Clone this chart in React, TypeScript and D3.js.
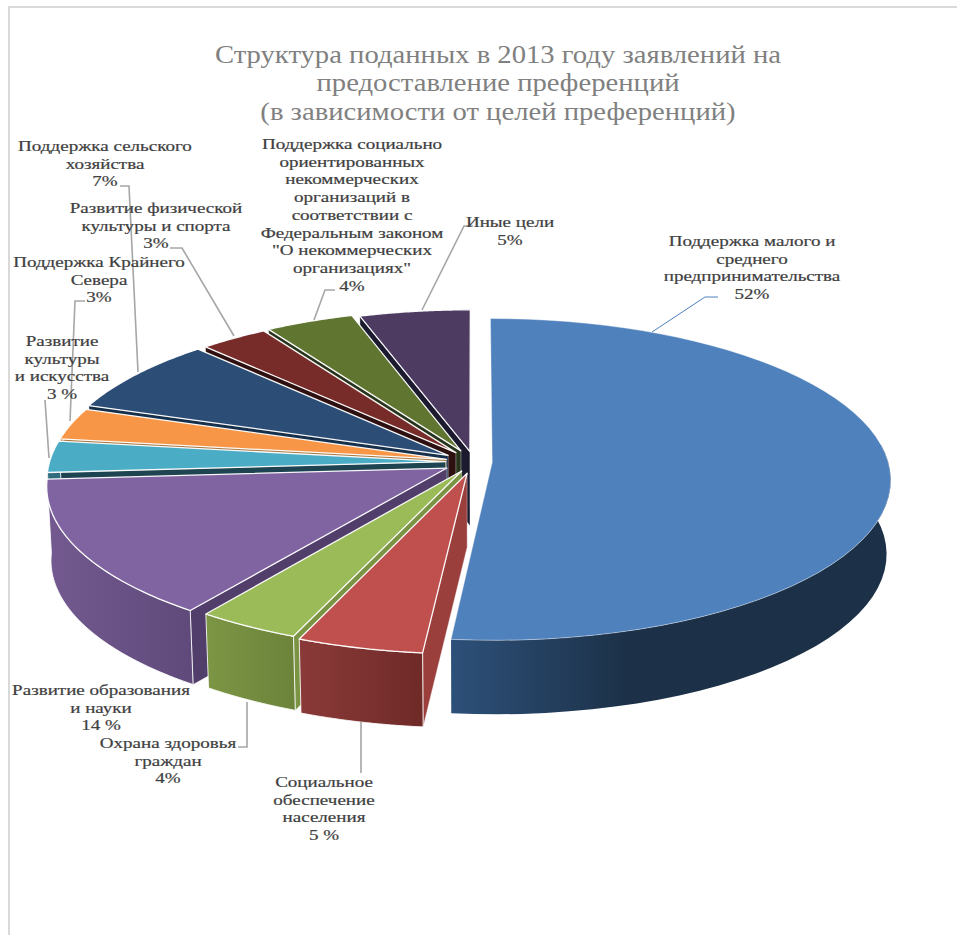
import React from "react";
import * as d3 from "d3";

const WIDTH = 957;
const HEIGHT = 935;

// Shares of applications by purpose, clockwise from 12 o'clock.
const shares = [52, 5, 4, 14, 3, 3, 7, 3, 4, 5];
const labelLines = [
  ["Поддержка малого и", "среднего", "предпринимательства", "52%"],
  ["Социальное", "обеспечение", "населения", "5 %"],
  ["Охрана здоровья", "граждан", "4%"],
  ["Развитие образования", "и науки", "14 %"],
  ["Развитие", "культуры", "и искусства", "3 %"],
  ["Поддержка Крайнего", "Севера", "3%"],
  ["Поддержка сельского", "хозяйства", "7%"],
  ["Развитие физической", "культуры и спорта", "3%"],
  [
    "Поддержка социально",
    "ориентированных",
    "некоммерческих",
    "организаций в",
    "соответствии с",
    "Федеральным законом",
    "\"О некоммерческих",
    "организациях\"",
    "4%",
  ],
  ["Иные цели", "5%"],
];
const titleLines = [
  "Структура поданных в 2013 году заявлений на",
  "предоставление преференций",
  "(в зависимости от целей преференций)",
];

// Radial pull of each slice away from the pie centre, as a fraction of the radius.
const pull = [0.046, 0.072, 0.064, 0.078, 0.072, 0.072, 0.078, 0.075, 0.078, 0.066];

const topColors = ["#4f81bd", "#c0504d", "#9bbb59", "#8064a2", "#4bacc6", "#f79646", "#2c4d75", "#772c2a", "#5f7530", "#4d3b62"];
const wallLeft = ["#2d5079", "#8a3a38", "#7c9645", "#73598f", "#2f6c7d", "#b06a30", "#1f3a58", "#541f1e", "#44541f", "#372a47"];
const wallRight = ["#1c3148", "#6f2a28", "#6c833a", "#5f4a7b", "#2f6c7d", "#b06a30", "#1f3a58", "#541f1e", "#44541f", "#372a47"];
const cutColors = ["#2c4d75", "#9a3f3c", "#7a9443", "#513e6b", "#1d4450", "#a8773f", "#16304c", "#2e1010", "#27331a", "#1b1a2e"];

// Label block centres and the baseline of each block's first line.
const labelCentres = [752, 324, 168, 101, 62, 99, 105, 156, 352, 510];
const labelBaselines = [246, 787, 748, 695, 346, 267, 151, 213, 149, 227];

// Leader lines running from the labels to the rim.
const leaders = [
  { pts: [[718, 297], [705, 297], [652, 332]], color: "#4f81bd", width: 1 },
  { pts: [[361, 722], [361, 773]], color: "#a6a6a6", width: 1.6 },
  { pts: [[238, 747], [247, 747], [247, 702]], color: "#a6a6a6", width: 1.6 },
  { pts: [[45, 400], [45, 400], [49, 458]], color: "#a6a6a6", width: 1.6 },
  { pts: [[85, 301], [75, 301], [70, 421]], color: "#a6a6a6", width: 1.6 },
  { pts: [[120, 186], [129, 186], [138, 372]], color: "#a6a6a6", width: 1.6 },
  { pts: [[170, 248], [182, 248], [234, 336]], color: "#a6a6a6", width: 1.6 },
  { pts: [[335, 290], [325, 290], [314, 320]], color: "#a6a6a6", width: 1.6 },
  { pts: [[473, 226], [464, 226], [422, 310]], color: "#a6a6a6", width: 1.6 },
];

// Perspective disc: far rim is compressed, near rim enlarged.
const CX = 474;
const CY = 462;
const RX = 396;
const RY = 159;
const PERSPECTIVE = 0.106;
const DEPTH = 74;
const BOTTOM_SHRINK = 0.01;

// The camera sits slightly off axis, so angles in the lower-left quadrant read a little smaller.
const YAW_START = (170 * Math.PI) / 180;
const YAW_END = (320 * Math.PI) / 180;
const YAW_AMOUNT = (4.5 * Math.PI) / 180;
const yawed = (a: number) =>
  a > YAW_START && a < YAW_END
    ? a - YAW_AMOUNT * Math.sin((Math.PI * (a - YAW_START)) / (YAW_END - YAW_START))
    : a;

const project = (u: number, v: number, z: number): [number, number] => {
  const p = 1 / (1 - PERSPECTIVE * v);
  const q = 1 - BOTTOM_SHRINK * z;
  return [CX + RX * u * p * q, CY + RY * v * p + DEPTH * z];
};

const outline = d3.line<[number, number]>().x((d) => d[0]).y((d) => d[1]);

const arcs = d3.pie<number>().sort(null).value((d) => d)(shares);

type SliceGeometry = {
  index: number;
  order: number;
  top: string;
  wall: string | null;
  cut: string | null;
  x0: number;
  x1: number;
};

const slices: SliceGeometry[] = arcs.map((arc, index) => {
  const startAngle = yawed(arc.startAngle);
  const endAngle = yawed(arc.endAngle);
  const mid = (startAngle + endAngle) / 2;
  const ou = pull[index] * Math.sin(mid);
  const ov = -pull[index] * Math.cos(mid);
  const rim = (a: number, z: number) => project(ou + Math.sin(a), ov - Math.cos(a), z);
  const samples = d3.range(0, 61).map((i) => startAngle + ((endAngle - startAngle) * i) / 60);
  const apexTop = project(ou, ov, 0);
  const apexBottom = project(ou, ov, 1);
  const top = outline([apexTop, ...samples.map((a) => rim(a, 0))])! + "Z";

  // Only the part of the outer wall that faces the viewer is drawn.
  const facing = samples.filter((a) => -Math.cos(a) > -0.16);
  const wall =
    facing.length > 1
      ? outline([...facing.map((a) => rim(a, 0)), ...[...facing].reverse().map((a) => rim(a, 1))])! + "Z"
      : null;
  const xs = facing.map((a) => rim(a, 0)[0]);

  // The cut face along the slice's leading edge, which blue never shows.
  const cut =
    index === 0
      ? null
      : outline([apexTop, rim(startAngle, 0), rim(startAngle, 1), apexBottom])! + "Z";

  return {
    index,
    order: -Math.cos(mid),
    top,
    wall,
    cut,
    x0: xs.length ? d3.min(xs)! : 0,
    x1: xs.length ? d3.max(xs)! : 1,
  };
});

const paintOrder = [...slices].sort((a, b) => a.order - b.order);

const SERIF = "'Liberation Serif', 'DejaVu Serif', serif";

export default function App() {
  return (
    <svg
      width={WIDTH}
      height={HEIGHT}
      viewBox={`0 0 ${WIDTH} ${HEIGHT}`}
      style={{ position: "absolute", left: 0, top: 0, background: "#ffffff" }}
    >
      <defs>
        {slices.map((s) => (
          <linearGradient
            key={s.index}
            id={`wall-${s.index}`}
            gradientUnits="userSpaceOnUse"
            x1={s.x0}
            x2={s.x1}
            y1={0}
            y2={0}
          >
            <stop offset="0" stopColor={wallLeft[s.index]} />
            <stop offset={s.index === 0 ? "0.4" : "1"} stopColor={wallRight[s.index]} />
            <stop offset="1" stopColor={wallRight[s.index]} />
          </linearGradient>
        ))}
      </defs>

      <path d="M9 935V7H957" fill="none" stroke="#d9d9d9" strokeWidth={2} />

      {titleLines.map((line, i) => (
        <text
          key={line}
          transform={`translate(498,${[63, 91, 120][i]}) scale(1.17,1)`}
          textAnchor="middle"
          fontFamily={SERIF}
          fontSize={24.5}
          fill="#808080"
        >
          {line}
        </text>
      ))}

      {paintOrder.map((s) => (
        <g key={s.index}>
          {s.cut && <path d={s.cut} fill={cutColors[s.index]} stroke="#ffffff" strokeWidth={0.6} strokeOpacity={0.6} />}
          {s.wall && (
            <path
              d={s.wall}
              fill={`url(#wall-${s.index})`}
              stroke="#ffffff"
              strokeWidth={s.index === 0 ? 0 : 1}
              strokeOpacity={0.85}
              strokeLinejoin="round"
            />
          )}
          <path
            d={s.top}
            fill={topColors[s.index]}
            stroke="#ffffff"
            strokeWidth={s.index === 0 ? 0.8 : 1.3}
            strokeOpacity={s.index === 0 ? 0.5 : 0.95}
            strokeLinejoin="round"
          />
        </g>
      ))}

      {leaders.map((leader, i) => (
        <path
          key={i}
          d={outline(leader.pts as [number, number][])!}
          fill="none"
          stroke={leader.color}
          strokeWidth={leader.width}
        />
      ))}

      {labelLines.map((lines, i) =>
        lines.map((line, j) => (
          <text
            key={`${i}-${j}`}
            transform={`translate(${labelCentres[i]},${labelBaselines[i] + j * 17.7}) scale(1.36,1)`}
            textAnchor="middle"
            fontFamily={SERIF}
            fontSize={14}
            fill="#404040"
            stroke="#404040"
            strokeWidth={0.2}
          >
            {line}
          </text>
        ))
      )}
    </svg>
  );
}
